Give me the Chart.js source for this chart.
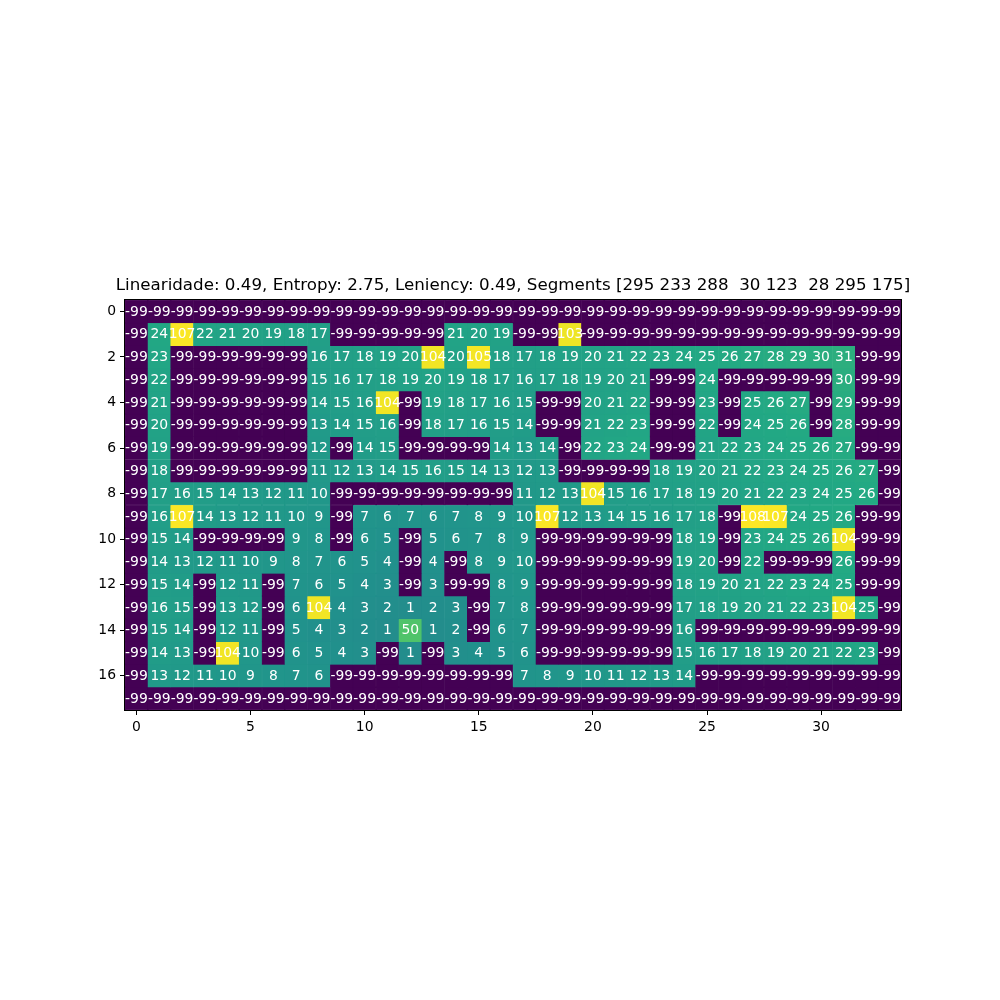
<!DOCTYPE html>
<html>
<head>
<meta charset="utf-8">
<script src="https://cdn.jsdelivr.net/npm/chart.js@4/dist/chart.umd.min.js"></script>
<style>
  html, body { margin: 0; padding: 0; background: #fff; }
  #wrap { width: 1000px; height: 1000px; }
</style>
</head>
<body>
<div id="wrap"><canvas id="heatChart" width="1000" height="1000"></canvas></div>
<script>
const titleText = "Linearidade: 0.49, Entropy: 2.75, Leniency: 0.49, Segments [295 233 288  30 123  28 295 175]";

const xTicks = [0, 5, 10, 15, 20, 25, 30];
const yTicks = [0, 2, 4, 6, 8, 10, 12, 14, 16];

// one array per grid row, top to bottom
const r0  = [-99,-99,-99,-99,-99,-99,-99,-99,-99,-99,-99,-99,-99,-99,-99,-99,-99,-99,-99,-99,-99,-99,-99,-99,-99,-99,-99,-99,-99,-99,-99,-99,-99,-99];
const r1  = [-99,24,107,22,21,20,19,18,17,-99,-99,-99,-99,-99,21,20,19,-99,-99,103,-99,-99,-99,-99,-99,-99,-99,-99,-99,-99,-99,-99,-99,-99];
const r2  = [-99,23,-99,-99,-99,-99,-99,-99,16,17,18,19,20,104,20,105,18,17,18,19,20,21,22,23,24,25,26,27,28,29,30,31,-99,-99];
const r3  = [-99,22,-99,-99,-99,-99,-99,-99,15,16,17,18,19,20,19,18,17,16,17,18,19,20,21,-99,-99,24,-99,-99,-99,-99,-99,30,-99,-99];
const r4  = [-99,21,-99,-99,-99,-99,-99,-99,14,15,16,104,-99,19,18,17,16,15,-99,-99,20,21,22,-99,-99,23,-99,25,26,27,-99,29,-99,-99];
const r5  = [-99,20,-99,-99,-99,-99,-99,-99,13,14,15,16,-99,18,17,16,15,14,-99,-99,21,22,23,-99,-99,22,-99,24,25,26,-99,28,-99,-99];
const r6  = [-99,19,-99,-99,-99,-99,-99,-99,12,-99,14,15,-99,-99,-99,-99,14,13,14,-99,22,23,24,-99,-99,21,22,23,24,25,26,27,-99,-99];
const r7  = [-99,18,-99,-99,-99,-99,-99,-99,11,12,13,14,15,16,15,14,13,12,13,-99,-99,-99,-99,18,19,20,21,22,23,24,25,26,27,-99];
const r8  = [-99,17,16,15,14,13,12,11,10,-99,-99,-99,-99,-99,-99,-99,-99,11,12,13,104,15,16,17,18,19,20,21,22,23,24,25,26,-99];
const r9  = [-99,16,107,14,13,12,11,10,9,-99,7,6,7,6,7,8,9,10,107,12,13,14,15,16,17,18,-99,108,107,24,25,26,-99,-99];
const r10 = [-99,15,14,-99,-99,-99,-99,9,8,-99,6,5,-99,5,6,7,8,9,-99,-99,-99,-99,-99,-99,18,19,-99,23,24,25,26,104,-99,-99];
const r11 = [-99,14,13,12,11,10,9,8,7,6,5,4,-99,4,-99,8,9,10,-99,-99,-99,-99,-99,-99,19,20,-99,22,-99,-99,-99,26,-99,-99];
const r12 = [-99,15,14,-99,12,11,-99,7,6,5,4,3,-99,3,-99,-99,8,9,-99,-99,-99,-99,-99,-99,18,19,20,21,22,23,24,25,-99,-99];
const r13 = [-99,16,15,-99,13,12,-99,6,104,4,3,2,1,2,3,-99,7,8,-99,-99,-99,-99,-99,-99,17,18,19,20,21,22,23,104,25,-99];
const r14 = [-99,15,14,-99,12,11,-99,5,4,3,2,1,50,1,2,-99,6,7,-99,-99,-99,-99,-99,-99,16,-99,-99,-99,-99,-99,-99,-99,-99,-99];
const r15 = [-99,14,13,-99,104,10,-99,6,5,4,3,-99,1,-99,3,4,5,6,-99,-99,-99,-99,-99,-99,15,16,17,18,19,20,21,22,23,-99];
const r16 = [-99,13,12,11,10,9,8,7,6,-99,-99,-99,-99,-99,-99,-99,-99,7,8,9,10,11,12,13,14,-99,-99,-99,-99,-99,-99,-99,-99,-99];
const r17 = [-99,-99,-99,-99,-99,-99,-99,-99,-99,-99,-99,-99,-99,-99,-99,-99,-99,-99,-99,-99,-99,-99,-99,-99,-99,-99,-99,-99,-99,-99,-99,-99,-99,-99];

const rows = [r0, r1, r2, r3, r4, r5, r6, r7, r8, r9, r10, r11, r12, r13, r14, r15, r16, r17];
const colLabels = r0.map((_, i) => String(i));

// viridis, sampled every 0.1
const viridis = ['#440154','#482475','#414487','#355f8d','#2a788e','#21918c','#22a884','#44bf70','#7ad151','#bddf26','#fde725'];

const allVals = rows.flat();
const vmin = Math.min(...allVals);
const vmax = Math.max(...allVals);

function hexToRgb(h) {
  return [parseInt(h.slice(1,3),16), parseInt(h.slice(3,5),16), parseInt(h.slice(5,7),16)];
}
function colorFor(v) {
  let t = (v - vmin) / (vmax - vmin);
  t = Math.max(0, Math.min(1, t));
  const pos = t * (viridis.length - 1);
  const i = Math.min(Math.floor(pos), viridis.length - 2);
  const f = pos - i;
  const a = hexToRgb(viridis[i]), b = hexToRgb(viridis[i + 1]);
  const c = a.map((x, k) => Math.round(x + (b[k] - x) * f));
  return 'rgb(' + c.join(',') + ')';
}

// one floating-bar dataset per row, spanning row-0.5 .. row+0.5
const datasets = rows.map((vals, r) => ({
  label: 'row ' + r,
  data: vals.map(() => [r - 0.5, r + 0.5]),
  values: vals,
  backgroundColor: vals.map(colorFor),
  borderColor: vals.map(colorFor),
  borderWidth: 0.5,
  borderSkipped: false,
  grouped: false,
  barPercentage: 1,
  categoryPercentage: 1
}));

const cellText = {
  id: 'cellText',
  afterDatasetsDraw(chart) {
    const ctx = chart.ctx;
    ctx.save();
    ctx.fillStyle = '#ffffff';
    ctx.font = '13.9px "DejaVu Sans"';
    ctx.textAlign = 'center';
    ctx.textBaseline = 'middle';
    chart.data.datasets.forEach((ds, di) => {
      const meta = chart.getDatasetMeta(di);
      meta.data.forEach((bar, i) => {
        const y = (bar.y + bar.base) / 2;
        ctx.fillText(String(ds.values[i]), bar.x, y + 0.5);
      });
    });
    ctx.restore();
  }
};

// centre the title over the plot area, like matplotlib does
const titleOverPlot = {
  id: 'titleOverPlot',
  afterLayout(chart) {
    const t = chart.titleBlock;
    if (!t) return;
    const mid = (chart.chartArea.left + chart.chartArea.right) / 2;
    t.left = mid - 450;
    t.right = mid + 450;
    t.width = 900;
  }
};

const frame = {
  id: 'frame',
  afterDraw(chart) {
    const a = chart.chartArea;
    const ctx = chart.ctx;
    ctx.save();
    ctx.strokeStyle = '#000';
    ctx.lineWidth = 1;
    ctx.strokeRect(Math.round(a.left) - 0.5, Math.round(a.top) - 0.5, Math.round(a.right - a.left) + 1, Math.round(a.bottom - a.top) + 1);
    ctx.restore();
  }
};

const ctx = document.getElementById('heatChart').getContext('2d');

new Chart(ctx, {
  type: 'bar',
  data: { labels: colLabels, datasets: datasets },
  plugins: [cellText, titleOverPlot, frame],
  options: {
    responsive: false,
    animation: false,
    layout: { padding: { left: 0, right: 99, top: 0, bottom: 0 } },
    plugins: {
      legend: { display: false },
      tooltip: { enabled: false },
      title: {
        display: true,
        text: titleText,
        color: '#000',
        font: { family: 'DejaVu Sans', size: 16.7, weight: 'normal' },
        padding: { top: 276, bottom: 4 }
      }
    },
    scales: {
      x: {
        type: 'category',
        offset: true,
        grid: { display: true, drawOnChartArea: false, tickLength: 5, color: '#000', offset: false },
        border: { display: false },
        ticks: {
          autoSkip: false,
          maxRotation: 0,
          color: '#000',
          padding: 4,
          font: { family: 'DejaVu Sans', size: 13.9 },
          callback: (val, idx) => xTicks.includes(idx) ? colLabels[idx] : null
        },
        afterFit: (scale) => { scale.height = 290; scale.paddingLeft = 0; scale.paddingRight = 0; }
      },
      y: {
        type: 'linear',
        min: -0.5,
        max: 17.5,
        reverse: true,
        grid: { display: true, drawOnChartArea: false, tickLength: 5, color: '#000' },
        border: { display: false },
        ticks: {
          color: '#000',
          padding: 4,
          font: { family: 'DejaVu Sans', size: 13.9 },
          callback: (v) => String(v)
        },
        afterBuildTicks: (scale) => { scale.ticks = yTicks.map(v => ({ value: v })); },
        afterFit: (scale) => { scale.width = 125; scale.paddingTop = 0; scale.paddingBottom = 0; }
      }
    }
  }
});
</script>
</body>
</html>
